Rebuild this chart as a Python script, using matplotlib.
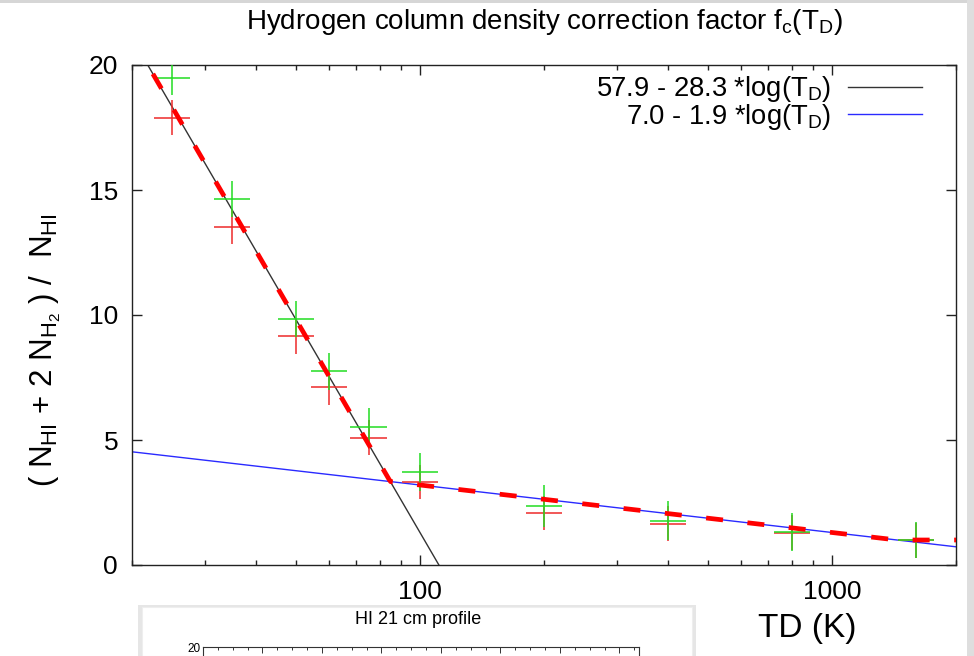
import numpy as np
import matplotlib
matplotlib.use("Agg")
import matplotlib.pyplot as plt
from matplotlib.patches import Rectangle
from matplotlib.ticker import FixedLocator, NullFormatter, FixedFormatter

plt.rcParams['font.family'] = ['Liberation Sans', 'DejaVu Sans']
plt.rcParams['mathtext.fontset'] = 'custom'
plt.rcParams['mathtext.rm'] = 'Liberation Sans'
plt.rcParams['mathtext.it'] = 'Liberation Sans'
plt.rcParams['mathtext.default'] = 'regular'

# dust temperature bins and the two measured ratios
td = [25, 35, 50, 60, 75, 100, 200, 400, 800, 1600]
ratio_green = [19.5, 14.66, 9.84, 7.75, 5.54, 3.73, 2.37, 1.77, 1.33, 1.0]
err_green = [0.7, 0.72, 0.72, 0.75, 0.75, 0.76, 0.85, 0.78, 0.76, 0.72]
ratio_red = [17.9, 13.53, 9.16, 7.11, 5.1, 3.33, 2.09, 1.65, 1.30, 1.0]
err_red = [0.7, 0.68, 0.7, 0.7, 0.7, 0.68, 0.68, 0.7, 0.7, 0.7]

# fits  a - b*log10(TD)
fit_cold = (57.9, 28.3)
fit_warm = (7.0, 1.9)
floor_val = 1.0

xticks_major = [100, 1000]
xticks_minor = [20, 30, 40, 50, 60, 70, 80, 90, 200, 300, 400, 500, 600, 700, 800, 900, 2000]
yticks = [0, 5, 10, 15, 20]

fig = plt.figure(figsize=(9.74, 6.56), dpi=100)
W, H = 974, 656

# screenshot frame bits
fig.add_artist(Rectangle((0, 1 - 3 / H), 1, 3 / H, transform=fig.transFigure,
                         color='#d6d6d6', lw=0, zorder=0))
fig.add_artist(Rectangle((967 / W, 0), 7 / W, 1, transform=fig.transFigure,
                         color='#dedede', lw=0, zorder=0))

ax = fig.add_axes([132 / W, 1 - 565 / H, (956 - 132) / W, (565 - 65) / H])

t = np.logspace(np.log10(20), np.log10(2000), 600)
cold = fit_cold[0] - fit_cold[1] * np.log10(t)
warm = fit_warm[0] - fit_warm[1] * np.log10(t)
combined = np.maximum(np.maximum(cold, warm), floor_val)

ax.plot(t, cold, color='#333333', lw=1.0, zorder=2,
        label='57.9 - 28.3 *log(T$_D$)')
ax.plot(t, warm, color='#2a2aff', lw=1.0, zorder=2,
        label='7.0 - 1.9 *log(T$_D$)')

xf = 1.106
td_a = np.array(td, dtype=float)
xerr = [td_a - td_a / xf, td_a * xf - td_a]
ax.errorbar(td, ratio_red, yerr=err_red, xerr=xerr, fmt='none',
            ecolor='#ee2a2a', elinewidth=1.1, capsize=0, zorder=3)
ax.errorbar(td, ratio_green, yerr=err_green, xerr=xerr, fmt='none',
            ecolor='#22dd22', elinewidth=1.1, capsize=0, zorder=4)

ax.plot(t, combined, color='#ff0000', lw=3.4, dashes=(3.6, 5.2), zorder=5,
        solid_capstyle='butt', dash_capstyle='butt')

ax.set_xscale('log')
ax.set_xlim(20, 2000)
ax.set_ylim(0, 20)
ax.xaxis.set_major_locator(FixedLocator(xticks_major))
ax.xaxis.set_major_formatter(FixedFormatter([str(v) for v in xticks_major]))
ax.xaxis.set_minor_locator(FixedLocator(xticks_minor))
ax.xaxis.set_minor_formatter(NullFormatter())
ax.yaxis.set_major_locator(FixedLocator(yticks))
ax.tick_params(which='both', direction='in', top=True, right=True,
               labelsize=19, color='#222222', width=1.0)
ax.tick_params(which='major', length=7)
ax.tick_params(which='minor', length=3.5)
ax.tick_params(axis='x', pad=11)
ax.tick_params(axis='y', pad=10)
for s in ax.spines.values():
    s.set_color('#222222')
    s.set_linewidth(1.0)

leg = ax.legend(loc='upper right', bbox_to_anchor=(1.0 - 18 / 824, 1.0 + 7 / 500),
                frameon=False, markerfirst=False, fontsize=19.7, handlelength=2.7,
                handletextpad=0.6, labelspacing=-0.1, borderaxespad=0.3,
                borderpad=0.3)

fig.text(544 / W, 1 - 22 / H,
         'Hydrogen column density correction factor f$_c$(T$_D$)',
         ha='center', va='center', fontsize=20)
fig.text(45 / W, 1 - 350 / H,
         '( N$_{HI}$ + 2 N$_{H_2}$ ) /  N$_{HI}$',
         rotation=90, ha='center', va='center', fontsize=22.5)
fig.text(807 / W, 1 - 628 / H, 'TD (K)', ha='center', va='center', fontsize=24)

# overlapping window at the bottom
fig.add_artist(Rectangle((138 / W, 0), 558 / W, (656 - 605) / H,
                         transform=fig.transFigure, color='#e6e6e6', lw=0, zorder=6))
fig.add_artist(Rectangle((142 / W, 0), 550 / W, (656 - 607) / H,
                         transform=fig.transFigure, facecolor='white',
                         edgecolor='#eeeeee', lw=0.8, zorder=7))
fig.text(418 / W, 1 - 620 / H, 'HI 21 cm profile', ha='center', va='center',
         fontsize=13, zorder=8)
ax2 = fig.add_axes([203 / W, 1 - 647 / H - 0.25, (639 - 203) / W, 0.25], zorder=8)
ax2.set_xlim(0, 7.33)
ax2.set_ylim(0, 20)
ax2.xaxis.set_major_locator(FixedLocator(np.arange(0, 8)))
ax2.xaxis.set_minor_locator(FixedLocator(np.arange(0, 7.33, 0.25)))
ax2.yaxis.set_major_locator(FixedLocator([20]))
ax2.tick_params(which='both', direction='in', top=True, bottom=False,
                labeltop=False, labelbottom=False, labelsize=8.5, width=0.7,
                color='#333333', pad=2)
ax2.tick_params(which='major', length=4)
ax2.tick_params(which='minor', length=2.5)
for s in ax2.spines.values():
    s.set_linewidth(0.8)
    s.set_color('#333333')

fig.savefig('out.png', dpi=100)
